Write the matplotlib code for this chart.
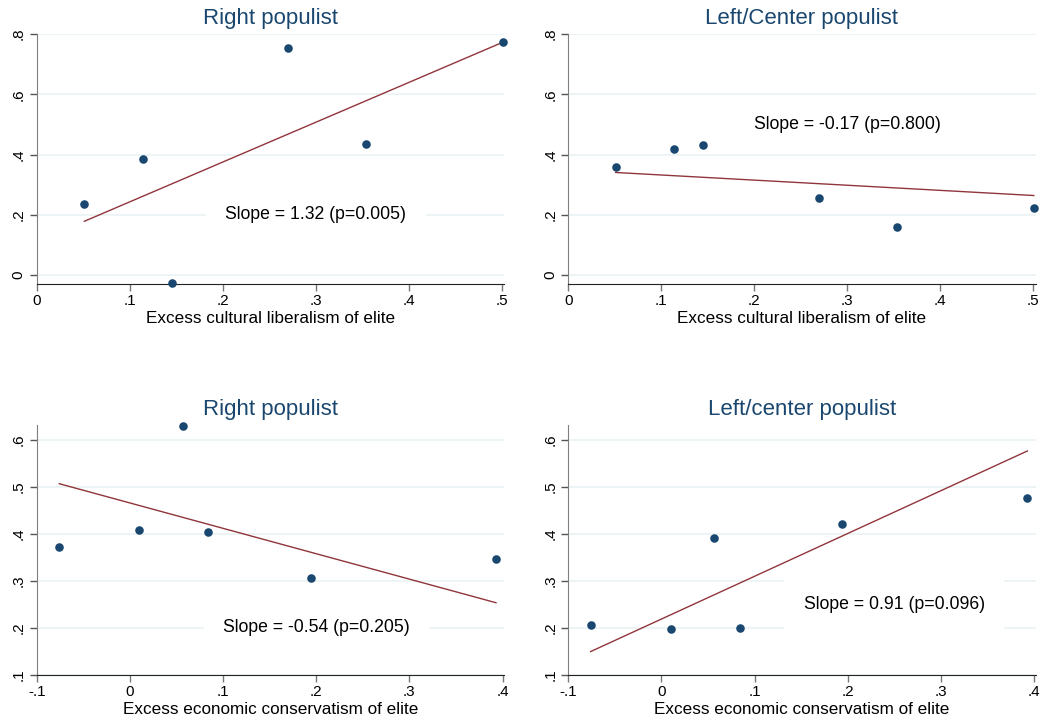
import numpy as np
import matplotlib
matplotlib.use('Agg')
import matplotlib.pyplot as plt

plt.rcParams['font.family'] = ['Liberation Sans', 'DejaVu Sans']

# data
cult_x = [0.051, 0.114, 0.145, 0.270, 0.354, 0.501]
right_cult_y = [0.235, 0.384, -0.027, 0.755, 0.434, 0.773]
left_cult_y = [0.359, 0.418, 0.431, 0.255, 0.159, 0.221]

econ_x = [-0.076, 0.010, 0.057, 0.084, 0.194, 0.393]
right_econ_y = [0.372, 0.408, 0.630, 0.404, 0.306, 0.346]
left_econ_y = [0.206, 0.198, 0.392, 0.199, 0.421, 0.477]

# fitted lines (slope, intercept) and labels
fit_slopes = [1.32, -0.17, -0.54, 0.91]
fit_intercepts = [0.111, 0.349, 0.466, 0.219]
fit_labels = ['Slope = 1.32 (p=0.005)', 'Slope = -0.17 (p=0.800)',
              'Slope = -0.54 (p=0.205)', 'Slope = 0.91 (p=0.096)']

titles = ['Right populist', 'Left/Center populist', 'Right populist', 'Left/center populist']
xlabels = ['Excess cultural liberalism of elite'] * 2 + ['Excess economic conservatism of elite'] * 2

cult_xticks = [0, 0.1, 0.2, 0.3, 0.4, 0.5]
cult_xticklabels = ['0', '.1', '.2', '.3', '.4', '.5']
cult_yticks = [0, 0.2, 0.4, 0.6, 0.8]
cult_yticklabels = ['0', '.2', '.4', '.6', '.8']
econ_xticks = [-0.1, 0, 0.1, 0.2, 0.3, 0.4]
econ_xticklabels = ['-.1', '0', '.1', '.2', '.3', '.4']
econ_yticks = [0.1, 0.2, 0.3, 0.4, 0.5, 0.6]
econ_yticklabels = ['.1', '.2', '.3', '.4', '.5', '.6']

navy = '#1a476f'
maroon = '#90353b'
grid = '#eaf2f3'

fig = plt.figure(figsize=(10.41, 7.24), dpi=100)

panels = [
    # rect, x, y, xlim, ylim, ticks, text position
    ([0.0355, 0.6077, 0.449, 0.3453], cult_x, right_cult_y, (0, 0.503), (-0.03, 0.8),
     cult_xticks, cult_xticklabels, cult_yticks, cult_yticklabels, (0.3, 0.2)),
    ([0.5459, 0.6077, 0.449, 0.3453], cult_x, left_cult_y, (0, 0.503), (-0.03, 0.8),
     cult_xticks, cult_xticklabels, cult_yticks, cult_yticklabels, (0.3, 0.5)),
    ([0.0355, 0.0677, 0.449, 0.3453], econ_x, right_econ_y, (-0.1, 0.402), (0.1, 0.632),
     econ_xticks, econ_xticklabels, econ_yticks, econ_yticklabels, (0.2, 0.2)),
    ([0.5459, 0.0677, 0.449, 0.3453], econ_x, left_econ_y, (-0.1, 0.402), (0.1, 0.632),
     econ_xticks, econ_xticklabels, econ_yticks, econ_yticklabels, (0.25, 0.25)),
]

for i, (rect, x, y, xlim, ylim, xt, xtl, yt, ytl, tpos) in enumerate(panels):
    ax = fig.add_axes(rect)
    ax.set_xlim(*xlim)
    ax.set_ylim(*ylim)
    ax.set_xticks(xt)
    ax.set_xticklabels(xtl, fontsize=11)
    ax.set_yticks(yt)
    ax.set_yticklabels(ytl, fontsize=11, rotation=90, va='center')
    for s in ['top', 'right']:
        ax.spines[s].set_visible(False)
    ax.spines['left'].set_color('#7f7f7f')
    ax.spines['bottom'].set_color('#222222')
    ax.tick_params(axis='y', length=5, width=1, color='#555555', pad=3)
    ax.tick_params(axis='x', length=5, width=1, color='#777777', pad=2)
    ax.yaxis.grid(True, color=grid, lw=1.2, zorder=0)
    ax.set_axisbelow(True)

    xs = np.array([min(x), max(x)])
    ax.plot(xs, fit_intercepts[i] + fit_slopes[i] * xs, color=maroon, lw=1.0, zorder=3)
    ax.scatter(x, y, s=38, color=navy, zorder=4, clip_on=False, linewidths=0)

    ax.text(tpos[0], tpos[1], fit_labels[i], fontsize=12.7, ha='center', va='center',
            zorder=2, bbox=dict(boxstyle='square,pad=1.1', fc='white', ec='none'))
    ax.set_title(titles[i], fontsize=16, color=navy, pad=7)
    ax.set_xlabel(xlabels[i], fontsize=12.3, labelpad=2.5)

fig.savefig('out.png', dpi=100, facecolor='white')
